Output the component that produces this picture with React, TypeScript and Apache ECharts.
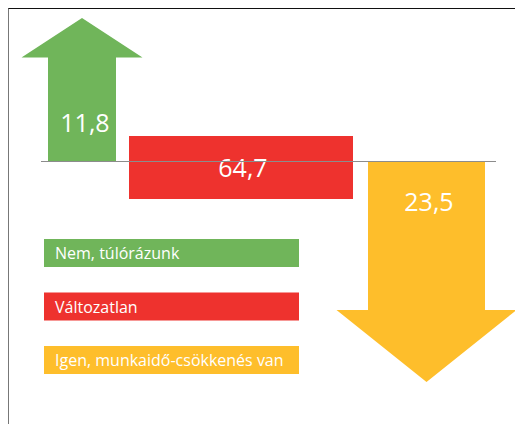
import React, { useEffect, useRef } from "react";
import * as echarts from "echarts";

// ---- data ----
const categories = ["Nem, túlórázunk", "Változatlan", "Igen, munkaidő-csökkenés van"];
const values = [11.8, 64.7, 23.5];
const directions = ["up", "flat", "down"];
const colors = ["#70B55A", "#EE322E", "#FEBE2B"];
const valueLabels = values.map((v) => v.toFixed(1).replace(".", ","));

// ---- layout / styles ----
const W = 515;
const H = 424;
const GRID = { top: 18, bottom: 42, left: 82, right: 89 };
const ZERO_Y = 161;
const ZERO_FRAC = (ZERO_Y - GRID.top) / (H - GRID.top - GRID.bottom);
const FONT = "'Open Sans', 'Noto Sans', sans-serif";
const SHAPES: Record<string, any> = {
  up: { dx: 0, headHalf: 60.5, shaftHalf: 34, headLen: 39.5, labelDx: 3, labelDy: -39 },
  flat: { dx: -13, half: 112, top: -25, bottom: 38, labelDx: 2, labelDy: 6 },
  down: { dx: 0.5, headHalf: 90, shaftHalf: 58.5, headLen: 72, labelDx: 2.5, labelDy: 40 },
};

const upMax = values[directions.indexOf("up")];
const downMin = -values[directions.indexOf("down")];

function makeRender(i: number) {
  const dir = directions[i];
  const s = SHAPES[dir];
  const color = colors[i];
  return (params: any, api: any) => {
    const idx = api.value(0);
    const v = api.value(1);
    const base = api.coord([idx, 0]);
    const cx = base[0] + s.dx;
    const children: any[] = [];
    if (dir === "up" || dir === "down") {
      const tip = api.coord([idx, dir === "up" ? v : -v]);
      const sign = dir === "up" ? 1 : -1;
      const hb = tip[1] + sign * s.headLen;
      const pts = [
        [cx, tip[1]],
        [cx + s.headHalf, hb],
        [cx + s.shaftHalf, hb],
        [cx + s.shaftHalf, base[1]],
        [cx - s.shaftHalf, base[1]],
        [cx - s.shaftHalf, hb],
        [cx - s.headHalf, hb],
      ];
      children.push({ type: "polygon", shape: { points: pts }, style: { fill: color } });
    } else {
      children.push({
        type: "rect",
        shape: { x: cx - s.half, y: base[1] + s.top, width: 2 * s.half, height: s.bottom - s.top },
        style: { fill: color },
      });
    }
    children.push({
      type: "text",
      style: {
        text: valueLabels[i],
        x: cx + s.labelDx,
        y: base[1] + s.labelDy,
        fill: "#ffffff",
        fontSize: 25,
        fontFamily: FONT,
        align: "center",
        verticalAlign: "middle",
      },
    });
    return { type: "group", children };
  };
}

export default function App() {
  const ref = useRef<HTMLDivElement>(null);
  useEffect(() => {
    if (!ref.current) return;
    const chart = echarts.init(ref.current, null, { renderer: "svg" });
    chart.setOption({
      animation: false,
      grid: { ...GRID },
      xAxis: {
        type: "category",
        data: categories,
        boundaryGap: false,
        show: false,
      },
      yAxis: [
        { type: "value", show: false, max: upMax, min: upMax - upMax / ZERO_FRAC },
        { type: "value", show: false, min: downMin, max: (-downMin * ZERO_FRAC) / (1 - ZERO_FRAC) },
      ],
      legend: {
        orient: "vertical",
        left: 39,
        top: 239,
        padding: 0,
        itemGap: 25.5,
        itemWidth: 0,
        itemHeight: 28,
        selectedMode: false,
        icon: "rect",
        data: categories.map((c, i) => ({
          name: c,
          textStyle: { backgroundColor: colors[i] },
        })),
        textStyle: {
          color: "#ffffff",
          fontSize: 16,
          fontFamily: FONT,
          width: 244,
          height: 28,
          lineHeight: 28,
          padding: [0, 0, 0, 11],
        },
      },
      graphic: [
        {
          type: "line",
          z: 100,
          shape: { x1: 41, y1: ZERO_Y + 0.5, x2: 496, y2: ZERO_Y + 0.5 },
          style: { stroke: "#8c8c8c", lineWidth: 1 },
        },
      ],
      series: categories.map((c, i) => ({
        type: "custom",
        name: c,
        yAxisIndex: directions[i] === "down" ? 1 : 0,
        itemStyle: { color: colors[i] },
        renderItem: makeRender(i),
        data: [[i, values[i]]],
        clip: false,
      })),
    });
    return () => chart.dispose();
  }, []);
  return (
    <div style={{ position: "absolute", left: 0, top: 0, width: W, height: H, overflow: "hidden" }}>
      <div
        style={{
          position: "absolute",
          left: 8,
          top: 8,
          width: W - 8,
          height: H - 8,
          borderTop: "1px solid #111",
          borderLeft: "1px solid #777",
          boxSizing: "border-box",
        }}
      />
      <div ref={ref} style={{ position: "absolute", left: 0, top: 0, width: W, height: H }} />
    </div>
  );
}
